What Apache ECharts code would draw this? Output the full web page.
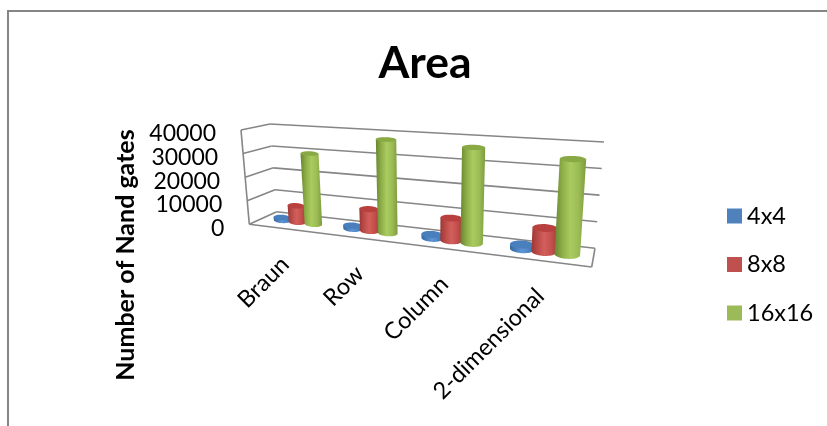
<!DOCTYPE html>
<html>
<head>
<meta charset="utf-8">
<style>html,body{margin:0;padding:0;background:#fff}#chart{width:827px;height:426px}</style>
<script src="https://cdn.jsdelivr.net/npm/echarts@6/dist/echarts.min.js"></script>
</head>
<body>
<div id="chart"></div>
<script>
const categories = ['Braun', 'Row', 'Column', '2-dimensional'];
const yTicks = [0, 10000, 20000, 30000, 40000];
const seriesNames = ['4x4', '8x8', '16x16'];
const values4x4 = [1200, 1300, 1500, 1700];
const values8x8 = [7000, 8900, 8800, 8800];
const values16x16 = [30000, 38000, 37000, 35000];

const FONT = 'Lato';

// Box corners on screen: front/back plane, floor/ceiling, left/right.
const box = {
  fl0: [249.3, 224.3], fr0: [591.7, 267], fl1: [241, 130], fr1: [598, 152],
  bl0: [276.7, 211.7], br0: [595, 248.3], bl1: [270, 124], br1: [604, 142]
};
const FORESHORTEN = 0.78;

const mix = (a, b, t) => [a[0] + (b[0] - a[0]) * t, a[1] + (b[1] - a[1]) * t];

// Maps width fraction s, depth fraction d and height fraction h into the box.
function project(s, d, h) {
  const t = FORESHORTEN * s / (1 + (FORESHORTEN - 1) * s);
  const floor = mix(mix(box.fl0, box.fr0, t), mix(box.bl0, box.br0, t), d);
  const ceil = mix(mix(box.fl1, box.fr1, t), mix(box.bl1, box.br1, t), d);
  return mix(floor, ceil, h);
}

// Converts a data point to box fractions through the grid's own axes.
function toFractions(api, params, cat, val) {
  const rect = params.coordSys;
  const p = api.coord([cat, val]);
  return { s: (p[0] - rect.x) / rect.width, h: (rect.y + rect.height - p[1]) / rect.height };
}

const R_WIDTH = 0.031;

// Ellipse outline of a cylinder slice, flatter the higher it sits.
function ring(s, h) {
  const c = project(s, 0.5, h);
  const l = project(s - R_WIDTH, 0.5, h);
  const r = project(s + R_WIDTH, 0.5, h);
  const rx = Math.hypot(r[0] - l[0], r[1] - l[1]) / 2;
  const ry = rx * (0.34 - 0.12 * h);
  const tilt = Math.atan2(r[1] - l[1], r[0] - l[0]) * 0.5;
  const pts = [];
  for (let i = 0; i < 48; i++) {
    const a = i / 48 * Math.PI * 2;
    const ex = rx * Math.cos(a), ey = ry * Math.sin(a);
    pts.push([c[0] + ex * Math.cos(tilt) - ey * Math.sin(tilt), c[1] + ex * Math.sin(tilt) + ey * Math.cos(tilt)]);
  }
  return pts;
}

function extremes(pts) {
  let li = 0, ri = 0;
  pts.forEach((p, i) => { if (p[0] < pts[li][0]) li = i; if (p[0] > pts[ri][0]) ri = i; });
  return [li, ri];
}

function cylinder(offset, look) {
  return function (params, api) {
    const f = toFractions(api, params, api.value(0), api.value(1));
    const s = f.s + offset;
    const top = ring(s, f.h);
    const base = ring(s, 0);
    const [li, ri] = extremes(base);
    const [tl, tr] = extremes(top);
    // Ring points run through the lower half from the right extreme to the left one.
    const arc = [];
    for (let i = ri; ; i = (i + 1) % 48) { arc.push(base[i]); if (i === li) break; }
    const body = [top[tl], top[tr]].concat(arc);
    return {
      type: 'group',
      children: [
        {
          type: 'polygon',
          shape: { points: body },
          style: {
            fill: {
              type: 'linear', x: 0, y: 0, x2: 1, y2: 0,
              colorStops: look.body.map((c, i) => ({ offset: i / (look.body.length - 1), color: c }))
            }
          }
        },
        { type: 'polygon', shape: { points: top }, style: { fill: look.top } }
      ]
    };
  };
}

const looks = [
  { body: ['#36689f', '#4a7fbd', '#5e95d4', '#4f86c5', '#3c70ad'], top: '#4a7fbd', legend: '#4f81bd' },
  { body: ['#9a3835', '#bd4c49', '#d25f5c', '#c4514e', '#a63e3b'], top: '#b8413f', legend: '#c0504d' },
  { body: ['#67862f', '#8eaf48', '#a9cb5f', '#9cbd55', '#7d9b3d'], top: '#88a944', legend: '#9bbb59' }
];
const offsets = [-0.052, 0.004, 0.0625];
const seriesValues = [values4x4, values8x8, values16x16];

const line = (a, b) => ({
  type: 'line',
  shape: { x1: a[0], y1: a[1], x2: b[0], y2: b[1] },
  style: { stroke: '#868686', lineWidth: 1.6 }
});

// Gridlines around the side and back walls, one data item per tick, plus the floor edges.
function renderWalls(params, api) {
  const f = toFractions(api, params, 0, api.value(0));
  const children = [
    line(project(0, 0, f.h), project(0, 1, f.h)),
    line(project(0, 1, f.h), project(1, 1, f.h))
  ];
  if (api.value(0) === 0) {
    children.push(line(project(0, 0, 0), project(0, 0, 1)));
    children.push(line(project(0, 0, 0), project(1, 0, 0)));
    children.push(line(project(1, 0, 0), project(1, 1, 0)));
  }
  return { type: 'group', children };
}

function renderValueLabel(params, api) {
  const f = toFractions(api, params, 0, api.value(0));
  const p = project(0, 0, f.h);
  return {
    type: 'text', x: p[0] - 25, y: p[1] + 4,
    style: { text: String(api.value(0)), fontFamily: FONT, fontSize: 23, fill: '#000', align: 'right', verticalAlign: 'middle' }
  };
}

function renderCategoryLabel(params, api) {
  const idx = api.value(0);
  const f = toFractions(api, params, idx, 0);
  const p = project(f.s, 0, 0);
  return {
    type: 'text', x: p[0] + 1.5, y: p[1] + 32, rotation: Math.PI / 4,
    style: { text: categories[idx], fontFamily: FONT, fontSize: 23.5, fill: '#000', align: 'right', verticalAlign: 'middle' }
  };
}

const chart = echarts.init(document.getElementById('chart'), null, { renderer: 'canvas' });
chart.setOption({
  animation: false,
  backgroundColor: '#ffffff',
  title: {
    text: 'Area', left: 420, top: 36, textAlign: 'center',
    textStyle: { fontFamily: FONT, fontSize: 44.5, fontWeight: 'bold', color: '#000' }
  },
  legend: {
    data: seriesNames, orient: 'vertical', left: 727, top: 204, padding: 0,
    itemWidth: 15, itemHeight: 15, itemGap: 24.5, icon: 'rect',
    textStyle: { fontFamily: FONT, fontSize: 23.5, color: '#000', lineHeight: 24 }
  },
  grid: { left: 249, top: 130, width: 343, height: 95, show: false },
  xAxis: { type: 'category', data: categories, show: false },
  yAxis: { type: 'value', min: 0, max: 40000, interval: 10000, show: false },
  graphic: [
    {
      type: 'polyline', silent: true,
      shape: { points: [[8, 426], [8, 11], [827, 11]] },
      style: { stroke: '#868686', lineWidth: 2, fill: 'none' }
    },
    {
      type: 'text', x: 126, y: 255, rotation: Math.PI / 2, silent: true,
      style: { text: 'Number of Nand gates', fontFamily: FONT, fontSize: 25, fontWeight: 'bold', fill: '#000', align: 'center', verticalAlign: 'middle' }
    }
  ],
  series: [
    { type: 'custom', name: 'walls', silent: true, z: 1, data: yTicks.map(v => [v]), encode: { y: 0 }, renderItem: renderWalls },
    { type: 'custom', name: 'valueLabels', silent: true, z: 1, data: yTicks.map(v => [v]), encode: { y: 0 }, renderItem: renderValueLabel },
    { type: 'custom', name: 'categoryLabels', silent: true, z: 1, data: categories.map((c, i) => [i]), encode: { x: 0 }, renderItem: renderCategoryLabel }
  ].concat(seriesNames.map((name, i) => ({
    type: 'custom',
    name,
    z: 2 + i,
    itemStyle: { color: looks[i].legend },
    encode: { x: 0, y: 1 },
    data: seriesValues[i].map((v, c) => [c, v]),
    renderItem: cylinder(offsets[i], looks[i])
  })))
});
</script>
</body>
</html>
